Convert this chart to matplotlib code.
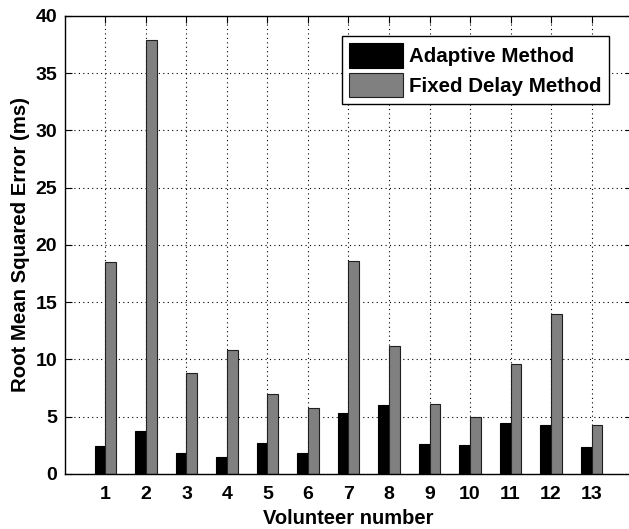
import numpy as np
from matplotlib import pyplot, ticker

volunteers = list(range(1, 14))
adaptive = [2.47, 3.76, 1.86, 1.46, 2.68, 1.86, 5.3, 6.03, 2.62, 2.5, 4.43, 4.28, 2.33]
fixed_delay = [18.47, 37.9, 8.8, 10.84, 6.96, 5.74, 18.6, 11.2, 6.09, 4.95, 9.64, 13.99, 4.28]
labels = ["Adaptive Method", "Fixed Delay Method"]


def main():
    pyplot.rcParams["font.family"] = ["Liberation Sans", "DejaVu Sans"]
    pyplot.rcParams["font.weight"] = "bold"

    fig = pyplot.figure(figsize=(6.29, 5.29), dpi=100)
    ax = fig.add_axes([0.1033, 0.104, 0.9015, 0.8658])

    x = np.array(volunteers)
    w = 0.265
    ax.bar(x - w / 2, adaptive, width=w, color="black", edgecolor="black",
           linewidth=0.8, label=labels[0], zorder=2)
    ax.bar(x + w / 2, fixed_delay, width=w, color="#808080", edgecolor="#202020",
           linewidth=0.8, label=labels[1], zorder=2)

    ax.set_xlim(0, 14)
    ax.set_ylim(0, 40)
    ax.xaxis.set_major_locator(ticker.FixedLocator(volunteers))
    ax.yaxis.set_major_locator(ticker.MultipleLocator(5))
    ax.grid(True, linestyle=(0, (1, 3)), color="black", linewidth=0.8, zorder=1)
    ax.set_axisbelow(True)
    ax.tick_params(direction="in", top=True, right=True, length=5,
                   labelsize=14, width=0.8)
    ax.tick_params(axis="y", pad=5.5)
    ax.tick_params(axis="x", pad=9)
    for lab in ax.get_xticklabels() + ax.get_yticklabels():
        lab.set_fontweight("bold")
    for sp in ax.spines.values():
        sp.set_linewidth(1.0)

    ax.set_xlabel("Volunteer number", fontsize=14.5, fontweight="bold", labelpad=4)
    ax.set_ylabel("Root Mean Squared Error (ms)", fontsize=14.7, fontweight="bold",
                  labelpad=4)

    leg = ax.legend(loc="upper right", bbox_to_anchor=(0.959, 0.956),
                    borderaxespad=0, fancybox=False, edgecolor="black",
                    framealpha=1, prop={"weight": "bold", "size": 14.8},
                    handlelength=2.6, handleheight=1.45, handletextpad=0.3,
                    borderpad=0.35, labelspacing=0.25)
    leg.get_frame().set_linewidth(1.0)

    fig.savefig("out.png", dpi=100)


if __name__ == "__main__":
    main()
